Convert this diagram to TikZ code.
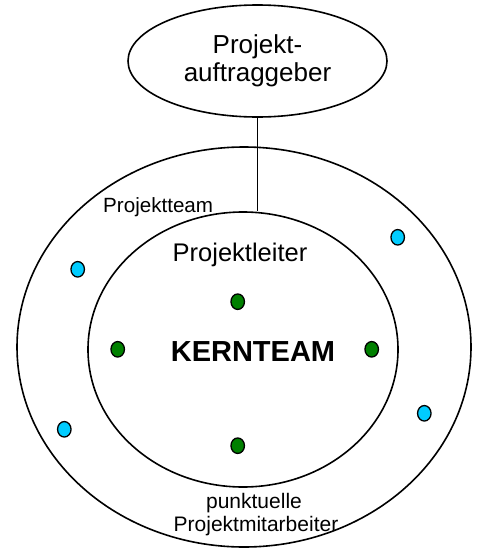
\documentclass[tikz,border=0pt]{standalone}
\usepackage{fontspec}
\setmainfont{Liberation Sans}
\usetikzlibrary{shapes.geometric}
\definecolor{dotgreen}{RGB}{0,128,0}
\definecolor{dotcyan}{RGB}{0,204,255}
\begin{document}
\begin{tikzpicture}[x=1pt,y=-1pt,
  ring/.style={draw,ellipse,line width=1.6pt,inner sep=0pt},
  dotg/.style={draw,ellipse,line width=1.3pt,fill=dotgreen,minimum width=13.5pt,minimum height=15.5pt,inner sep=0pt},
  dotc/.style={dotg,fill=dotcyan},
  lbl/.style={inner sep=0pt,anchor=base}]
\useasboundingbox (0,0) rectangle (477,549);
\node[ring,minimum width=454pt,minimum height=400pt] (team) at (244,347) {};
\node[ring,minimum width=310pt,minimum height=275pt] (kern) at (243,349.5) {};
\node[ring,minimum width=259pt,minimum height=112pt,align=center,font=\fontsize{26}{28}\selectfont] (auft) at (257.5,61) {Projekt-\\auftraggeber};
\draw[line width=1.6pt] (auft.south) -- (auft.south |- kern.north);
\node[lbl,anchor=base west,font=\fontsize{20.6}{24}\selectfont] (lteam) at (103,212) {Projektteam};
\node[lbl,font=\fontsize{25.5}{28}\selectfont] (lleit) at (240,261) {Projektleiter};
\node[lbl,font=\bfseries\fontsize{29}{32}\selectfont] (lkern) at (253,361.5) {KERNTEAM};
\node[lbl,font=\fontsize{21}{24}\selectfont] (lpunk) at (254,508.5) {punktuelle};
\node[lbl,font=\fontsize{21}{24}\selectfont] (lmit) at (256,531) {Projektmitarbeiter};
\node[dotg] (g1) at (237.7,301.7) {};
\node[dotg] (g2) at (117.7,349.3) {};
\node[dotg] (g3) at (371.7,349.3) {};
\node[dotg] (g4) at (237.7,445.7) {};
\node[dotc] (c1) at (77.7,269.3) {};
\node[dotc] (c2) at (397.7,237.3) {};
\node[dotc] (c3) at (64.3,429.3) {};
\node[dotc] (c4) at (424.3,413.3) {};
\end{tikzpicture}
\end{document}
